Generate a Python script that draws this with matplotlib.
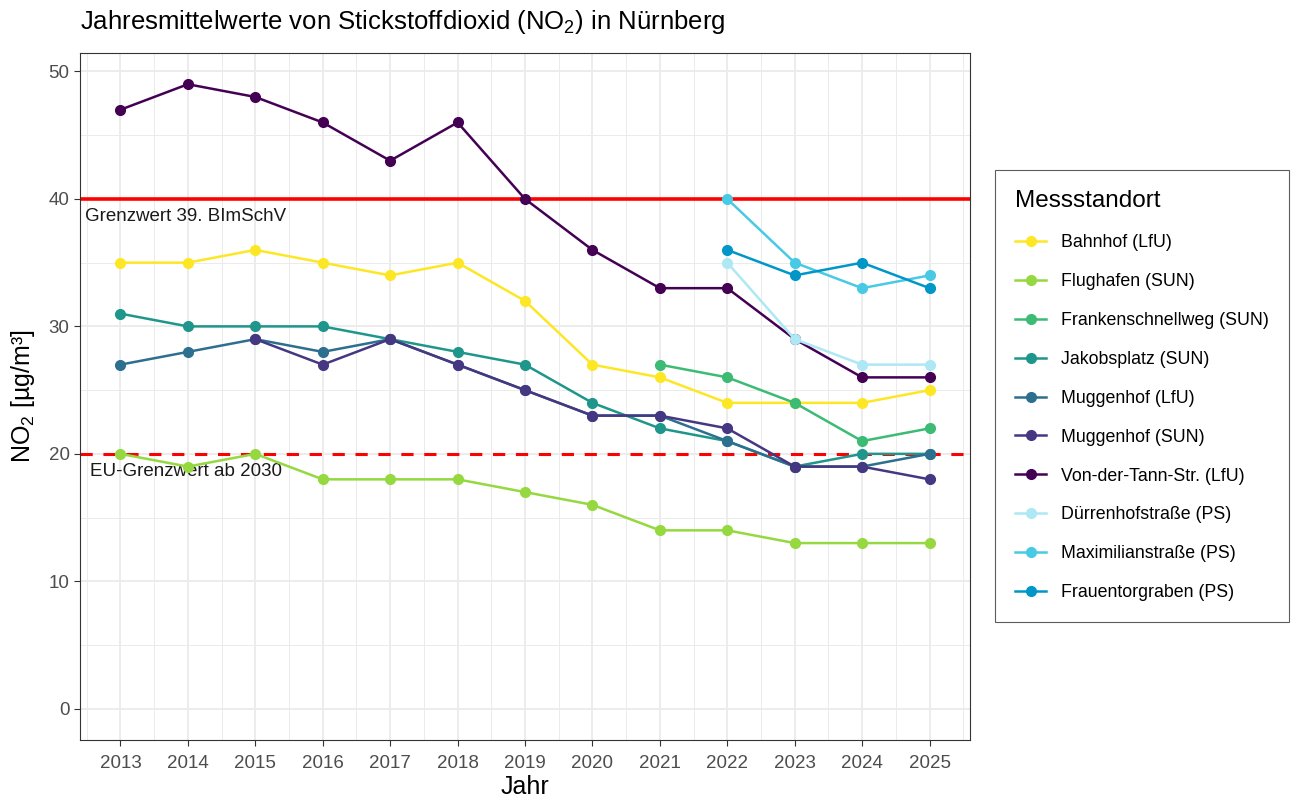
import numpy as np
import matplotlib.pyplot as plt
from matplotlib.ticker import MultipleLocator

plt.rcParams['font.family'] = ['Liberation Sans', 'DejaVu Sans']
plt.rcParams['mathtext.fontset'] = 'custom'
plt.rcParams['mathtext.rm'] = 'Liberation Sans'

jahre = list(range(2013, 2026))

# Messwerte je Standort (Jahr, Wert)
bahnhof_lfu = [35, 35, 36, 35, 34, 35, 32, 27, 26, 24, 24, 24, 25]
flughafen_sun = [20, 19, 20, 18, 18, 18, 17, 16, 14, 14, 13, 13, 13]
frankenschnellweg_sun = [27, 26, 24, 21, 22]
frankenschnellweg_jahre = [2021, 2022, 2023, 2024, 2025]
jakobsplatz_sun = [31, 30, 30, 30, 29, 28, 27, 24, 22, 21, 19, 20, 20]
muggenhof_lfu = [27, 28, 29, 28, 29, 27, 25, 23, 23, 21, 19, 19, 20]
muggenhof_sun = [29, 27, 29, 27, 25, 23, 23, 22, 19, 19, 18]
muggenhof_sun_jahre = list(range(2015, 2026))
von_der_tann_lfu = [47, 49, 48, 46, 43, 46, 40, 36, 33, 33, 29, 26, 26]
ps_jahre = [2022, 2023, 2024, 2025]
duerrenhof_ps = [35, 29, 27, 27]
maximilian_ps = [40, 35, 33, 34]
frauentor_ps = [36, 34, 35, 33]

serien = [
    ('Bahnhof (LfU)', jahre, bahnhof_lfu, '#FDE725'),
    ('Flughafen (SUN)', jahre, flughafen_sun, '#95D840'),
    ('Frankenschnellweg (SUN)', frankenschnellweg_jahre, frankenschnellweg_sun, '#3CBB75'),
    ('Jakobsplatz (SUN)', jahre, jakobsplatz_sun, '#1F968B'),
    ('Muggenhof (LfU)', jahre, muggenhof_lfu, '#2D6F8E'),
    ('Muggenhof (SUN)', muggenhof_sun_jahre, muggenhof_sun, '#453781'),
    ('Von-der-Tann-Str. (LfU)', jahre, von_der_tann_lfu, '#440154'),
    ('Dürrenhofstraße (PS)', ps_jahre, duerrenhof_ps, '#ADE8F4'),
    ('Maximilianstraße (PS)', ps_jahre, maximilian_ps, '#48CAE4'),
    ('Frauentorgraben (PS)', ps_jahre, frauentor_ps, '#0096C7'),
]

fig = plt.figure(figsize=(12.96, 8.1), dpi=100)
ax = fig.add_axes([80 / 1296, 1 - 740 / 810, 890 / 1296, 687 / 810])

# Grenzwerte
ax.axhline(40, color='#FF0000', lw=2.6, zorder=2)
ax.axhline(20, color='#FF0000', lw=2.2, ls=(0, (4, 3.5)), zorder=2)
ax.text(2012.47, 39.3, 'Grenzwert 39. BImSchV', fontsize=13.5, va='top', ha='left', color='#1a1a1a')
ax.text(2012.55, 19.3, 'EU-Grenzwert ab 2030', fontsize=13.5, va='top', ha='left', color='#1a1a1a')

for name, x, y, farbe in serien:
    ax.plot(x, y, color=farbe, lw=1.8, marker='o', ms=7, label=name, zorder=3)

ax.set_xlim(2012.4, 2025.6)
ax.set_ylim(-2.45, 51.45)
ax.set_xticks(jahre)
ax.xaxis.set_minor_locator(MultipleLocator(0.5))
ax.yaxis.set_major_locator(MultipleLocator(10))
ax.yaxis.set_minor_locator(MultipleLocator(5))
ax.grid(which='major', color='#EBEBEB', lw=1.3, zorder=0)
ax.grid(which='minor', color='#EBEBEB', lw=0.7, zorder=0)
ax.set_axisbelow(True)
ax.tick_params(which='major', labelsize=13.5, labelcolor='#4D4D4D', color='#333333', length=4)
ax.tick_params(axis='x', which='major', pad=7)
ax.tick_params(which='minor', length=0)
for s in ax.spines.values():
    s.set_color('#333333')
    s.set_linewidth(0.8)

ax.set_xlabel('Jahr', fontsize=18, labelpad=2)
ax.set_ylabel('NO$_2$ [µg/m³]', fontsize=18, labelpad=8)
fig.text(80 / 1296, 1 - 22 / 810, 'Jahresmittelwerte von Stickstoffdioxid (NO$_2$) in Nürnberg',
         fontsize=18.5, ha='left', va='center')

leg = fig.legend(loc='upper left', bbox_to_anchor=(995 / 1296, 1 - 170 / 810),
                 title='Messstandort', fontsize=12.8, title_fontsize=17.5,
                 frameon=True, fancybox=False, edgecolor='#333333',
                 labelspacing=1.23, handlelength=1.7, handletextpad=0.85,
                 borderpad=1.15, borderaxespad=0)
leg._legend_box.align = 'left'
leg.get_frame().set_linewidth(0.8)

fig.savefig('out.png', dpi=100)
